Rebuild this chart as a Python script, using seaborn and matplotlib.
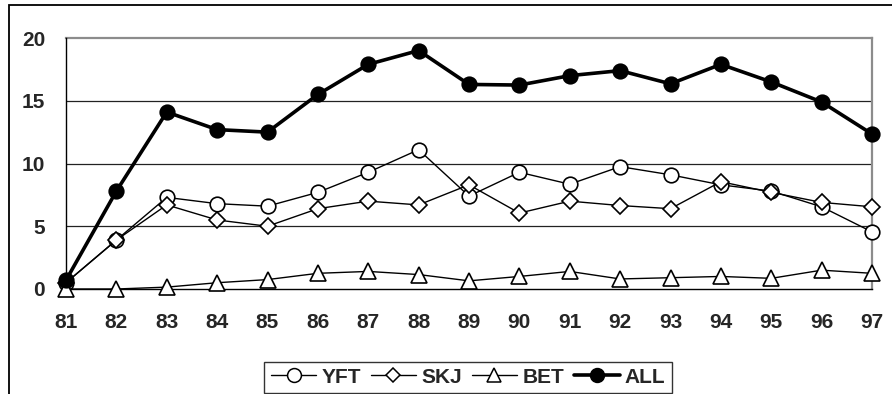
import matplotlib
matplotlib.use("Agg")
import matplotlib.pyplot as plt
from matplotlib.lines import Line2D
from matplotlib.patches import Rectangle
import seaborn as sns
import pandas as pd

years = [81, 82, 83, 84, 85, 86, 87, 88, 89, 90, 91, 92, 93, 94, 95, 96, 97]
yft = [0.5, 3.9, 7.3, 6.8, 6.6, 7.7, 9.3, 11.1, 7.4, 9.3, 8.35, 9.75, 9.1, 8.3, 7.8, 6.55, 4.55]
skj = [0.5, 3.9, 6.7, 5.5, 5.0, 6.4, 7.0, 6.7, 8.3, 6.05, 7.0, 6.65, 6.4, 8.55, 7.7, 6.9, 6.55]
bet = [0.0, 0.0, 0.15, 0.5, 0.75, 1.25, 1.4, 1.15, 0.65, 1.0, 1.4, 0.8, 0.9, 1.0, 0.85, 1.5, 1.25]
all_sp = [0.7, 7.8, 14.1, 12.7, 12.5, 15.5, 17.9, 19.0, 16.3, 16.25, 17.0, 17.4, 16.35, 17.9, 16.5, 14.9, 12.35]
y_ticks = [0, 5, 10, 15, 20]

sns.set_theme(style="white")
plt.rcParams["font.family"] = ["Liberation Sans", "DejaVu Sans"]

fig = plt.figure(figsize=(8.92, 3.94), dpi=100)
ax = fig.add_axes([66 / 892, 1 - 289 / 394, (872 - 66) / 892, (289 - 38) / 394])

# Outer chart frame (open on the right and bottom)
fig.patches.append(Rectangle((9 / 892, -0.05), 1.2, 1 - 5 / 394 + 0.05,
                             transform=fig.transFigure, fill=False,
                             edgecolor="black", linewidth=1.3, zorder=0))

series = [
    ("YFT", yft, "o", "white", 1.0, 10.5),
    ("SKJ", skj, "D", "white", 1.0, 8),
    ("BET", bet, "^", "white", 1.0, 11),
    ("ALL", all_sp, "o", "black", 2.6, 10.5),
]

handles = []
for name, vals, mk, face, lw, ms in series:
    df = pd.DataFrame({"year": years, "value": vals})
    sns.lineplot(data=df, x="year", y="value", ax=ax, color="black",
                 linewidth=lw, marker=mk, markersize=ms,
                 markerfacecolor=face, markeredgecolor="black",
                 markeredgewidth=1.2, clip_on=False, zorder=3)
    handles.append(Line2D([], [], color="black", linewidth=lw, marker=mk,
                          markersize=ms * 0.95, markerfacecolor=face,
                          markeredgecolor="black", markeredgewidth=1.1,
                          label=name))

ax.set_xlim(81, 97)
ax.set_ylim(0, 20)
ax.set_xticks(years)
ax.set_xticklabels([str(y) for y in years])
ax.set_yticks(y_ticks)
ax.set_xlabel("")
ax.set_ylabel("")

for y in y_ticks[1:-1]:
    ax.axhline(y, color="#222222", linewidth=0.9, zorder=1)

for side in ["top", "right"]:
    ax.spines[side].set_color("#8c8c8c")
    ax.spines[side].set_linewidth(1.6)
for side in ["left", "bottom"]:
    ax.spines[side].set_color("black")
    ax.spines[side].set_linewidth(1.0)
ax.spines["top"].set_zorder(2)

ax.tick_params(axis="both", which="major", direction="out", length=5,
               width=1.0, color="black", labelsize=15)
ax.tick_params(axis="y", pad=10)
ax.tick_params(axis="x", pad=12)
for lab in ax.get_xticklabels() + ax.get_yticklabels():
    lab.set_fontweight("bold")

leg = fig.legend(handles=handles, loc="lower center",
                 bbox_to_anchor=(468 / 892, 1 / 394), ncol=4,
                 frameon=True, fancybox=False, handlelength=2.2,
                 handletextpad=0.25, columnspacing=0.45, borderpad=0.3,
                 borderaxespad=0.0,
                 prop={"weight": "bold", "size": 15})
leg.get_frame().set_edgecolor("black")
leg.get_frame().set_linewidth(1.0)

fig.savefig("out.png", dpi=100)
